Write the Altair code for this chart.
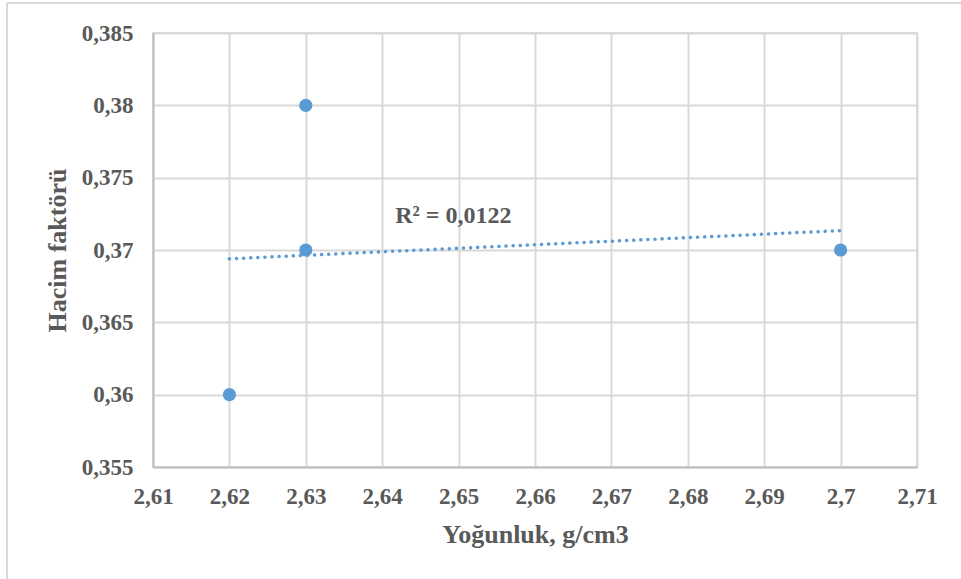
import altair as alt
import pandas as pd

# Data
density = [2.62, 2.63, 2.63, 2.70]
volume_factor = [0.36, 0.38, 0.37, 0.37]
x_ticks = [2.61, 2.62, 2.63, 2.64, 2.65, 2.66, 2.67, 2.68, 2.69, 2.70, 2.71]
y_ticks = [0.355, 0.36, 0.365, 0.37, 0.375, 0.38, 0.385]
r2_label = ["R² = 0,0122"]
r2_pos_x = [2.6417]
r2_pos_y = [0.37232]

df = pd.DataFrame({"x": density, "y": volume_factor})
lab = pd.DataFrame({"x": r2_pos_x, "y": r2_pos_y, "t": r2_label})

FONT = "Liberation Serif"
GREY = "#595959"
BLUE = "#5b9bd5"

xs = alt.Scale(domain=[x_ticks[0], x_ticks[-1]], nice=False, zero=False)
ys = alt.Scale(domain=[y_ticks[0], y_ticks[-1]], nice=False, zero=False)

x_axis = alt.Axis(
    title="Yoğunluk, g/cm3", values=x_ticks, ticks=False, tickSize=0,
    labelExpr="replace(format(datum.value, '.2~f'), '.', ',')",
    labelPadding=18, labelFont=FONT, labelFontSize=23, labelFontWeight="bold",
    labelColor=GREY, titleFont=FONT, titleFontSize=26, titleFontWeight="bold",
    titleColor=GREY, titleY=67, titleBaseline="middle",
    domainColor="#bfbfbf", domainWidth=2, gridColor="#d9d9d9", gridWidth=2,
    labelFlush=False,
)
y_axis = alt.Axis(
    title="Hacim faktörü", values=y_ticks, ticks=False, tickSize=0,
    labelExpr="replace(format(datum.value, '.3~f'), '.', ',')",
    labelPadding=20, labelFont=FONT, labelFontSize=23, labelFontWeight="bold",
    labelColor=GREY, titleFont=FONT, titleFontSize=26, titleFontWeight="bold",
    titleColor=GREY, titleX=-96, titleBaseline="middle",
    domainColor="#bfbfbf", domainWidth=2, gridColor="#d9d9d9", gridWidth=2,
    labelFlush=False,
)

base = alt.Chart(df)

points = base.mark_circle(size=175, color=BLUE, opacity=1).encode(
    x=alt.X("x:Q", scale=xs, axis=x_axis),
    y=alt.Y("y:Q", scale=ys, axis=y_axis),
)

trend = base.transform_regression("x", "y").mark_line(
    color=BLUE, strokeWidth=3.5, strokeDash=[0.1, 7], strokeCap="round"
).encode(x=alt.X("x:Q", scale=xs), y=alt.Y("y:Q", scale=ys))

text = alt.Chart(lab).mark_text(
    align="left", baseline="middle", font=FONT, fontSize=24,
    fontWeight="bold", color=GREY
).encode(x=alt.X("x:Q", scale=xs), y=alt.Y("y:Q", scale=ys), text="t:N")

# light frame lines of the figure box (left and top)
frame_left = alt.Chart(df).mark_rule(color="#d9d9d9", strokeWidth=2).encode(
    x=alt.value(-146), y=alt.value(-30), y2=alt.value(546)
)
frame_top = alt.Chart(df).mark_rule(color="#d9d9d9", strokeWidth=2).encode(
    x=alt.value(-146), x2=alt.value(808), y=alt.value(-30)
)

chart = alt.layer(frame_left, frame_top, trend, points, text).properties(
    width=764, height=434,
    autosize=alt.AutoSizeParams(type="none"),
    padding={"left": 153, "top": 33, "right": 44, "bottom": 112},
    background="white",
).configure_view(stroke="#d9d9d9", strokeWidth=2)

chart.save("out.html", embed_options={"renderer": "svg", "actions": False})
